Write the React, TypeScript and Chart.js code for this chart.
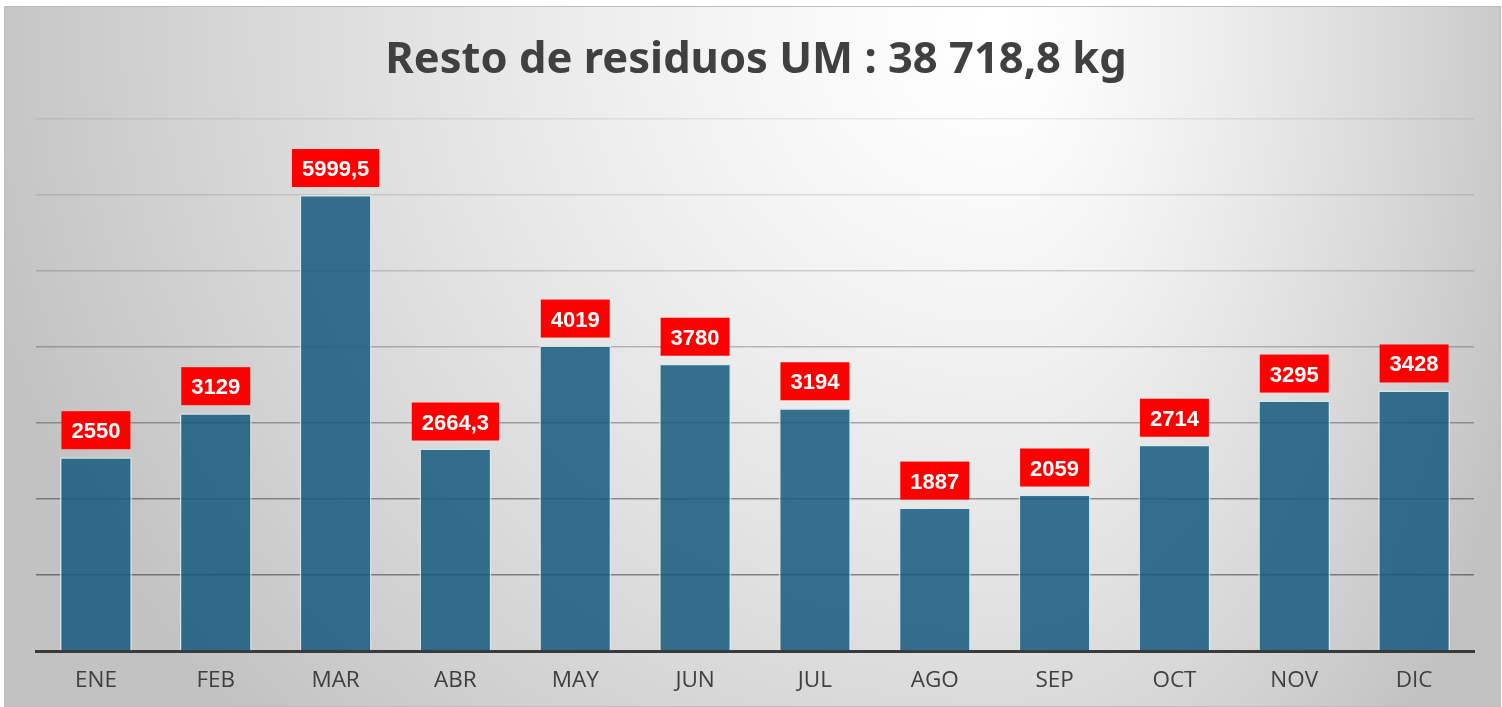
import React, { useEffect, useRef } from "react";
import { Chart, registerables } from "chart.js";

Chart.register(...registerables);

const months = ["ENE", "FEB", "MAR", "ABR", "MAY", "JUN", "JUL", "AGO", "SEP", "OCT", "NOV", "DIC"];
const values = [2550, 3129, 5999.5, 2664.3, 4019, 3780, 3194, 1887, 2059, 2714, 3295, 3428];
const yTickValues = [0, 1000, 2000, 3000, 4000, 5000, 6000, 7000];
const gridAlphas = [0, 0.42, 0.38, 0.3, 0.23, 0.16, 0.11, 0.07];
const titleText = "Resto de residuos UM : 38 718,8 kg";

const W = 1502;
const H = 707;

function fmt(v: number): string {
  return String(v).replace(".", ",");
}

function makeBackground(): HTMLCanvasElement {
  const c = document.createElement("canvas");
  c.width = W;
  c.height = H;
  const ctx = c.getContext("2d")!;
  ctx.fillStyle = "#ffffff";
  ctx.fillRect(0, 0, W, H);
  const x0 = 5, y0 = 7, x1 = 1500, y1 = 706;
  const w = x1 - x0, h = y1 - y0;
  const img = ctx.createImageData(w, h);
  const cx = 1000, cy = 30;
  for (let y = 0; y < h; y++) {
    for (let x = 0; x < w; x++) {
      const px = x + x0, py = y + y0;
      const dx = px - cx;
      const rx = dx < 0 ? 1050 : 560;
      const ty = (py - cy) / 1000;
      let t = Math.sqrt((dx / rx) * (dx / rx) + ty * ty);
      if (t > 1) t = 1;
      const v = Math.round(255 - 61 * Math.pow(t, 1.3));
      const i = (y * w + x) * 4;
      img.data[i] = v;
      img.data[i + 1] = v;
      img.data[i + 2] = v;
      img.data[i + 3] = 255;
    }
  }
  ctx.putImageData(img, x0, y0);
  ctx.strokeStyle = "#bdbdbd";
  ctx.lineWidth = 1;
  ctx.strokeRect(x0 - 0.5, y0 - 0.5, w + 1, h + 1);
  return c;
}

export default function App() {
  const ref = useRef<HTMLCanvasElement | null>(null);

  useEffect(() => {
    document.body.style.margin = "0";
    const canvas = ref.current;
    if (!canvas) return;
    const bg = makeBackground();

    const decor = {
      id: "decor",
      beforeDraw(chart: any) {
        const ctx = chart.ctx;
        ctx.save();
        ctx.drawImage(bg, 0, 0);
        ctx.fillStyle = "#404040";
        ctx.font = 'bold 42px "Noto Sans"';
        const mw = ctx.measureText(titleText).width;
        const size = Math.max(30, Math.min(52, (42 * 742) / mw));
        ctx.font = `bold ${size.toFixed(1)}px "Noto Sans"`;
        ctx.textAlign = "center";
        ctx.textBaseline = "alphabetic";
        ctx.fillText(titleText, 756, 73);
        ctx.restore();
      },
      afterDatasetsDraw(chart: any) {
        const ctx = chart.ctx;
        const meta = chart.getDatasetMeta(0);
        ctx.save();
        ctx.font = 'bold 22px "Liberation Sans"';
        ctx.textAlign = "center";
        ctx.textBaseline = "alphabetic";
        meta.data.forEach((el: any, i: number) => {
          const txt = fmt(values[i]);
          const tw = ctx.measureText(txt).width;
          const bw = tw + 20;
          const bh = 38;
          const bottom = el.y - 8;
          const top = bottom - bh;
          ctx.fillStyle = "#ff0000";
          ctx.fillRect(el.x - bw / 2, top, bw, bh);
          ctx.fillStyle = "#ffffff";
          ctx.fillText(txt, el.x, top + bh / 2 + 8);
        });
        ctx.restore();
      },
    };

    const chart = new Chart(canvas, {
      type: "bar",
      data: {
        labels: months,
        datasets: [
          {
            data: values,
            backgroundColor: "rgba(20, 91, 125, 0.85)",
            borderColor: "rgba(215, 232, 240, 0.85)",
            borderWidth: 1.5,
            categoryPercentage: 1,
            barPercentage: 0.6,
          },
        ],
      },
      options: {
        responsive: false,
        animation: false,
        devicePixelRatio: 1,
        layout: { padding: { left: 36, right: 28, top: 119, bottom: 0 } },
        plugins: {
          legend: { display: false },
          tooltip: { enabled: false },
          title: { display: false },
        },
        scales: {
          x: {
            grid: { display: false, drawTicks: false },
            border: { display: true, color: "#3a3a3a", width: 3 },
            ticks: {
              color: "#404040",
              font: { family: '"Open Sans"', size: 22.5 },
              padding: 16,
            },
            afterFit: (axis: any) => {
              axis.height = 56;
            },
          },
          y: {
            min: 0,
            max: 7000,
            afterBuildTicks: (axis: any) => {
              axis.ticks = yTickValues.map((v) => ({ value: v }));
            },
            ticks: { display: false },
            border: { display: false },
            grid: {
              drawTicks: false,
              lineWidth: 1.5,
              color: (c: any) => {
                const idx = yTickValues.indexOf(c.tick ? c.tick.value : -1);
                const a = idx >= 0 ? gridAlphas[idx] : 0;
                return `rgba(0,0,0,${a})`;
              },
            },
          },
        },
      },
      plugins: [decor],
    });

    return () => {
      chart.destroy();
    };
  }, []);

  return <canvas ref={ref} width={W} height={H} style={{ display: "block" }} />;
}
